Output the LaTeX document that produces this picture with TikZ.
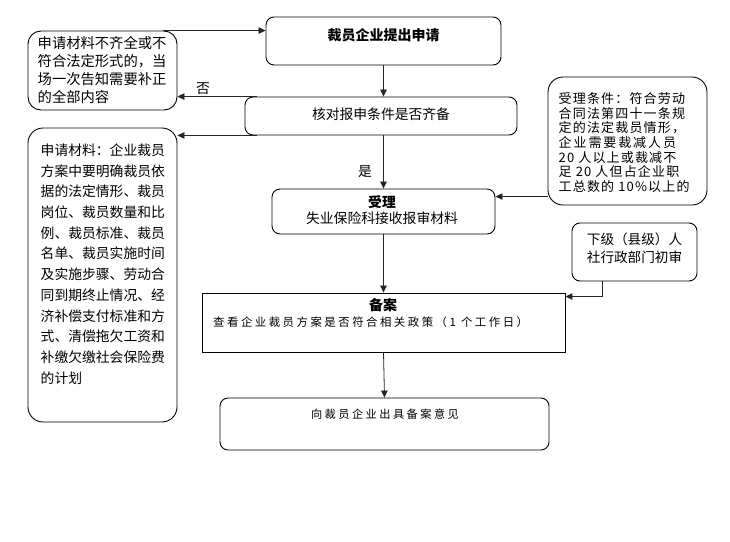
\documentclass[tikz,border=0pt]{standalone}
\usepackage{fontspec}
\setmainfont{Noto Sans CJK SC}
\newfontfamily\spacedcjk{Noto Sans CJK SC}[LetterSpace=22]
\newfontfamily\narrowcjk{Noto Sans CJK SC}[LetterSpace=9]
\usetikzlibrary{arrows.meta}
\tikzset{
  box/.style={draw=black, line width=0.9pt, rounded corners=#1, inner sep=0pt},
  box/.default=8pt,
  plainbox/.style={draw=black, line width=0.9pt, inner sep=0pt},
  lbl/.style={inner sep=0pt, align=left, text=black},
  arr/.style={draw=black!85, line width=0.8pt, -{Triangle[length=7pt,width=6.5pt]}},
}
\begin{document}
\begin{tikzpicture}[x=1pt,y=-1pt]
\fill[white] (0,0) rectangle (730,541);
\useasboundingbox (0,0) rectangle (730,541);

% boxes
\node[box, minimum width=235pt, minimum height=48pt] (top) at (383.5,41) {};
\node[lbl, font=\fontsize{14}{16}\selectfont\bfseries] (topT) at (383.5,35) {裁员企业提出申请};

\node[box=13pt, minimum width=149pt, minimum height=79pt] (leftA) at (102.5,70.5) {};
\node[lbl, anchor=west, font=\fontsize{14.3}{17.7}\selectfont] (leftAT) at (37.5,70) {申请材料不齐全或不\\符合法定形式的，当\\场一次告知需要补正\\的全部内容};

\node[box=15pt, minimum width=149pt, minimum height=294pt] (leftB) at (102.5,275) {};
\node[lbl, anchor=west, font=\fontsize{13.8}{20.7}\selectfont] (leftBT) at (40.5,264) {申请材料：企业裁员\\方案中要明确裁员依\\据的法定情形、裁员\\岗位、裁员数量和比\\例、裁员标准、裁员\\名单、裁员实施时间\\及实施步骤、劳动合\\同到期终止情况、经\\济补偿支付标准和方\\式、清偿拖欠工资和\\补缴欠缴社会保险费\\的计划};

\node[box, minimum width=272pt, minimum height=38pt] (check) at (381,116) {};
\node[lbl, font=\fontsize{13.8}{16}\selectfont] (checkT) at (381,114) {核对报申条件是否齐备};

\node[box=15pt, minimum width=159pt, minimum height=128pt] (rightA) at (627.5,141) {};
\node[lbl, anchor=west, font=\fontsize{13}{14.7}\selectfont\narrowcjk] (rightAT) at (558.5,142.5) {受理条件：符合劳动\\合同法第四十一条规\\定的法定裁员情形，\\企\hspace{1.9pt}业\hspace{1.9pt}需\hspace{1.9pt}要\hspace{1.9pt}裁\hspace{1.9pt}减\hspace{1.9pt}人\hspace{1.9pt}员\\20 人以上或裁减不\\足 20 人但占企业职\\工总数的 10\%以上的};

\node[box, minimum width=223pt, minimum height=45pt] (accept) at (383.5,211.5) {};
\node[lbl, align=center, font=\fontsize{13.8}{16.5}\selectfont] (acceptT) at (382,210) {\textbf{受理}\\失业保险科接收报审材料};

\node[box, minimum width=125pt, minimum height=58pt] (rightB) at (634.5,252) {};
\node[lbl, font=\fontsize{13.6}{18}\selectfont] (rightBT) at (634.5,248) {下级（县级）人\\社行政部门初审};

\node[plainbox, minimum width=363pt, minimum height=59pt] (record) at (383.5,322.5) {};
\node[lbl, font=\fontsize{14}{16}\selectfont\bfseries] (recordT) at (383,305) {备案};
\node[lbl, anchor=west, font=\fontsize{11.4}{14}\selectfont\spacedcjk] (recordS) at (213,322) {查看企业裁员方案是否符合相关政策（1 个工作日）};

\node[box, minimum width=329pt, minimum height=52pt] (final) at (384.5,424) {};
\node[lbl, font=\fontsize{11.2}{14}\selectfont\spacedcjk] (finalT) at (385,414) {向裁员企业出具备案意见};

% labels
\node[lbl, font=\fontsize{13.8}{16}\selectfont] (no) at (203,89) {否};
\node[lbl, font=\fontsize{13.8}{16}\selectfont] (yes) at (365,172) {是};

% connectors
\draw[arr] ([xshift=-14pt]leftA.north east) -- (leftA.north east -| top.west);
\draw[arr] (top.south) -- (top.south |- check.north);
\draw[arr] ([xshift=12pt]check.north west) -- (check.north west -| leftA.east);
\draw[arr] ([xshift=12pt]check.south west) -- (check.south west -| leftB.east);
\draw[arr] (accept.north |- check.south) -- (accept.north);
\coordinate (inA) at ([yshift=-8pt]accept.north east);
\draw[arr] (inA -| rightA.west) -- (inA);
\draw[arr] (accept.south) -- (record.north);
\coordinate (inR) at ([yshift=-4pt]record.north east);
\draw[arr] ([xshift=-32.5pt]rightB.south) |- (inR);
\draw[arr] (record.south) -- (final.north);
\end{tikzpicture}
\end{document}
